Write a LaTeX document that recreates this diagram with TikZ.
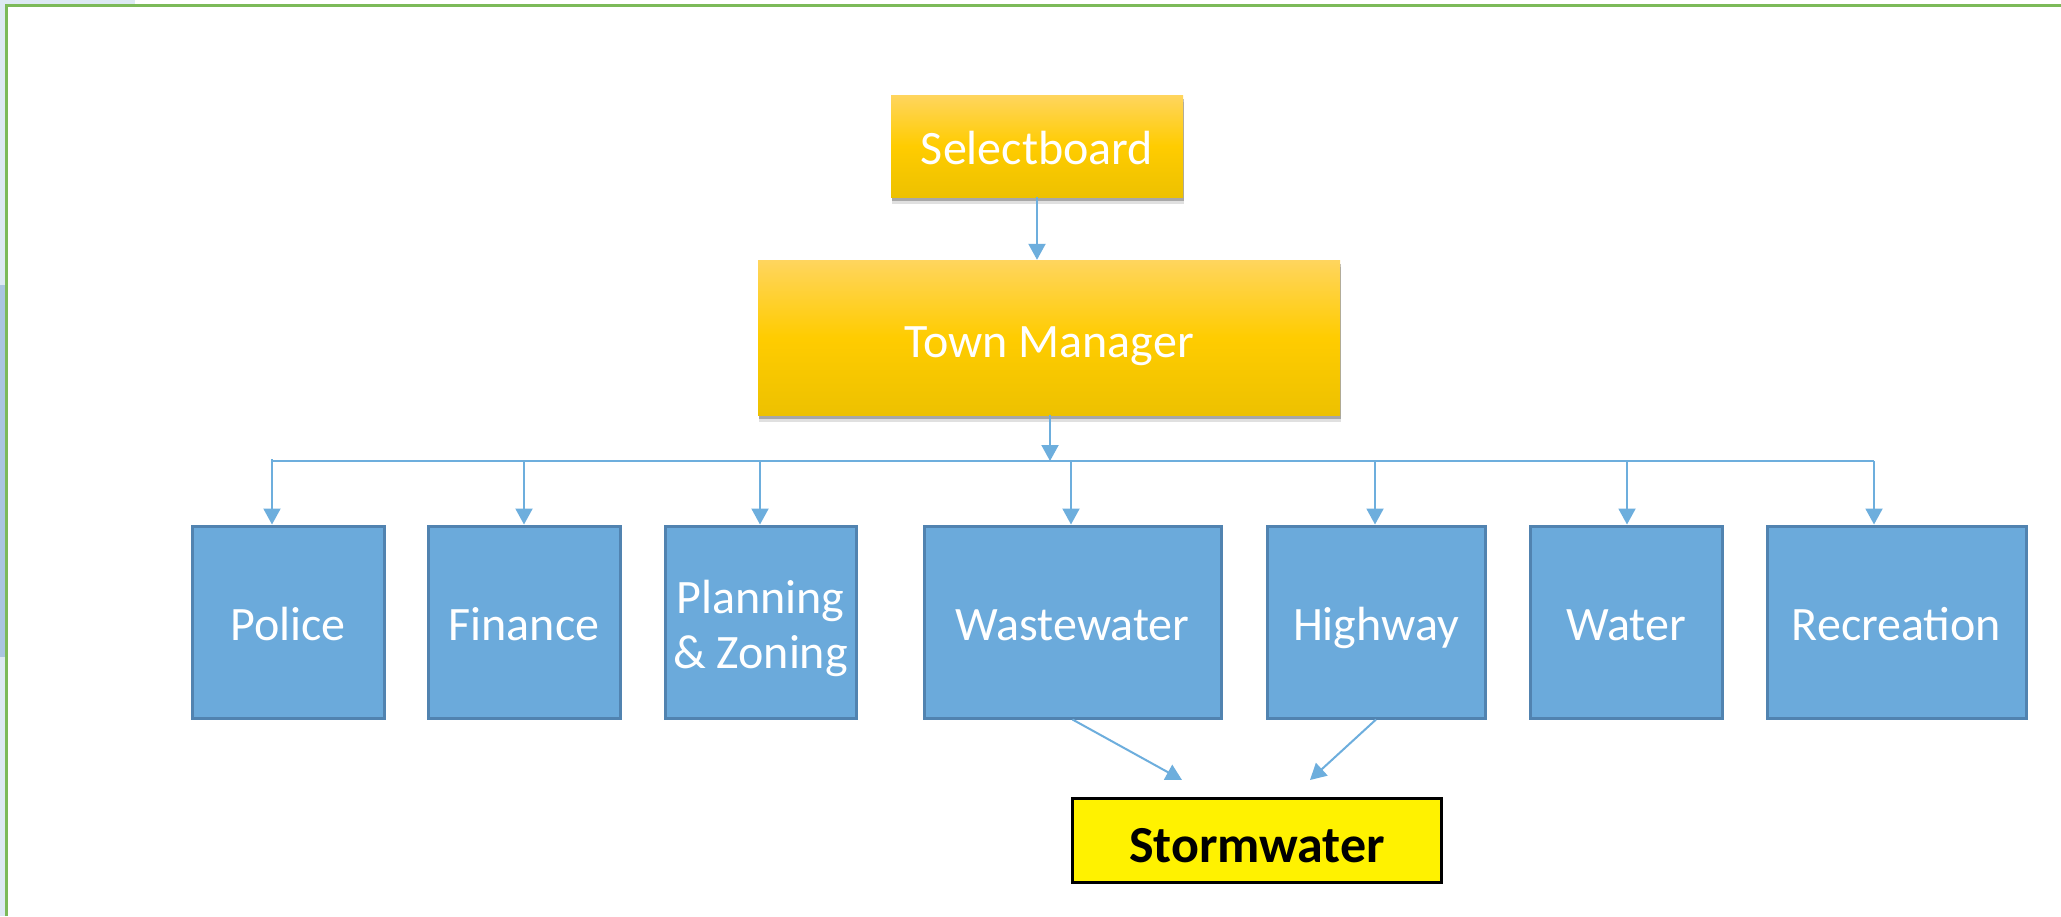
\documentclass[tikz,border=0pt]{standalone}
\usepackage{fontspec}
\setmainfont{Carlito}
\usetikzlibrary{arrows.meta,shadows}
\definecolor{boxblue}{HTML}{6BAADB}
\definecolor{boxedge}{HTML}{5183B0}
\definecolor{conncol}{HTML}{6DAEDD}
\definecolor{framegreen}{HTML}{7CBA59}
\definecolor{goldtop}{HTML}{FFD55E}
\definecolor{goldmid}{HTML}{FFCC00}
\definecolor{goldbot}{HTML}{EDC100}
\definecolor{stripl}{HTML}{DDE9F3}
\definecolor{stripd}{HTML}{AAC5E0}
\begin{document}
\begin{tikzpicture}[x=1pt,y=-1pt,
  dept/.style={draw=boxedge, line width=3pt, fill=boxblue, text=white,
    inner sep=0pt, align=center, minimum height=192pt,
    text height=36pt, text depth=0pt,
    font=\fontsize{48}{57}\selectfont},
  gold/.style={top color=goldtop, bottom color=goldbot, middle color=goldmid,
    draw=none, text=white, inner sep=0pt,
    text height=36pt, text depth=0pt,
    font=\fontsize{48}{57}\selectfont,
    drop shadow={shadow xshift=1pt, shadow yshift=-7pt, fill=black, opacity=0.12},
    drop shadow={shadow xshift=1pt, shadow yshift=-4pt, fill=black, opacity=0.25}},
  storm/.style={draw=black, line width=3pt, fill=yellow, text=black, inner sep=0pt,
    text height=44pt, text depth=0pt,
    font=\fontsize{52}{60}\selectfont\bfseries},
  conn/.style={draw=conncol, line width=2pt, -{Triangle[length=16pt,width=17pt]}},
  busline/.style={draw=conncol, line width=2pt}
]
\useasboundingbox (0,0) rectangle (2061,916);
\fill[white] (0,0) rectangle (2061,916);
% left strip
\fill[stripl] (0,0) rectangle (6,916);
\fill[stripl] (0,0) rectangle (135,4);
\fill[stripd] (0,285) rectangle (6,657);
% frame
\draw[framegreen, line width=3pt] (6.5,916) -- (6.5,5.5) -- (2061,5.5);

% top nodes
\node[gold, minimum width=292pt, minimum height=102pt] (sel) at (1037,146) {Selectboard};
\node[gold, minimum width=582pt, minimum height=155pt, text height=40pt] (tm) at (1049,337.5) {Town Manager};

% departments
\node[dept, minimum width=192pt] (police) at (288,622) {Police};
\node[dept, minimum width=192pt] (finance) at (524,622) {Finance};
\node[dept, minimum width=191pt, text height=92pt, text depth=0pt] (planning) at (760.5,622) {Planning\\[-2pt]\& Zoning};
\node[dept, minimum width=297pt] (waste) at (1072.5,622) {Wastewater};
\node[dept, minimum width=218pt] (highway) at (1376,622) {Highway};
\node[dept, minimum width=192pt] (water) at (1626,622) {Water};
\node[dept, minimum width=259pt] (recreation) at (1896.5,622) {Recreation};

% stormwater
\node[storm, minimum width=369pt, minimum height=84pt] (storm) at (1257,840) {Stormwater};

% bus coordinates
\coordinate (bP) at (272,461);
\coordinate (bF) at (524,461);
\coordinate (bZ) at (760,461);
\coordinate (bW) at (1071,461);
\coordinate (bH) at (1375,461);
\coordinate (bA) at (1627,461);
\coordinate (bR) at (1874,461);
\coordinate (bT) at (1050,461);

% connectors
\draw[conn] (sel.south) -- (sel.south |- tm.north);
\draw[conn] (tm.south -| bT) -- (bT);
\draw[busline] (bP) -- (bR);
\draw[conn] ([yshift=2pt]bP) -- (bP |- police.north);
\draw[conn] (bF) -- (bF |- finance.north);
\draw[conn] (bZ) -- (bZ |- planning.north);
\draw[conn] (bW) -- (bW |- waste.north);
\draw[conn] (bH) -- (bH |- highway.north);
\draw[conn] (bA) -- (bA |- water.north);
\draw[conn] (bR) -- (bR |- recreation.north);

\coordinate (s1) at (1182,780);
\coordinate (s2) at (1310,780);
\draw[conn] (waste.south) -- (s1);
\draw[conn] (highway.south) -- (s2);
\end{tikzpicture}
\end{document}
